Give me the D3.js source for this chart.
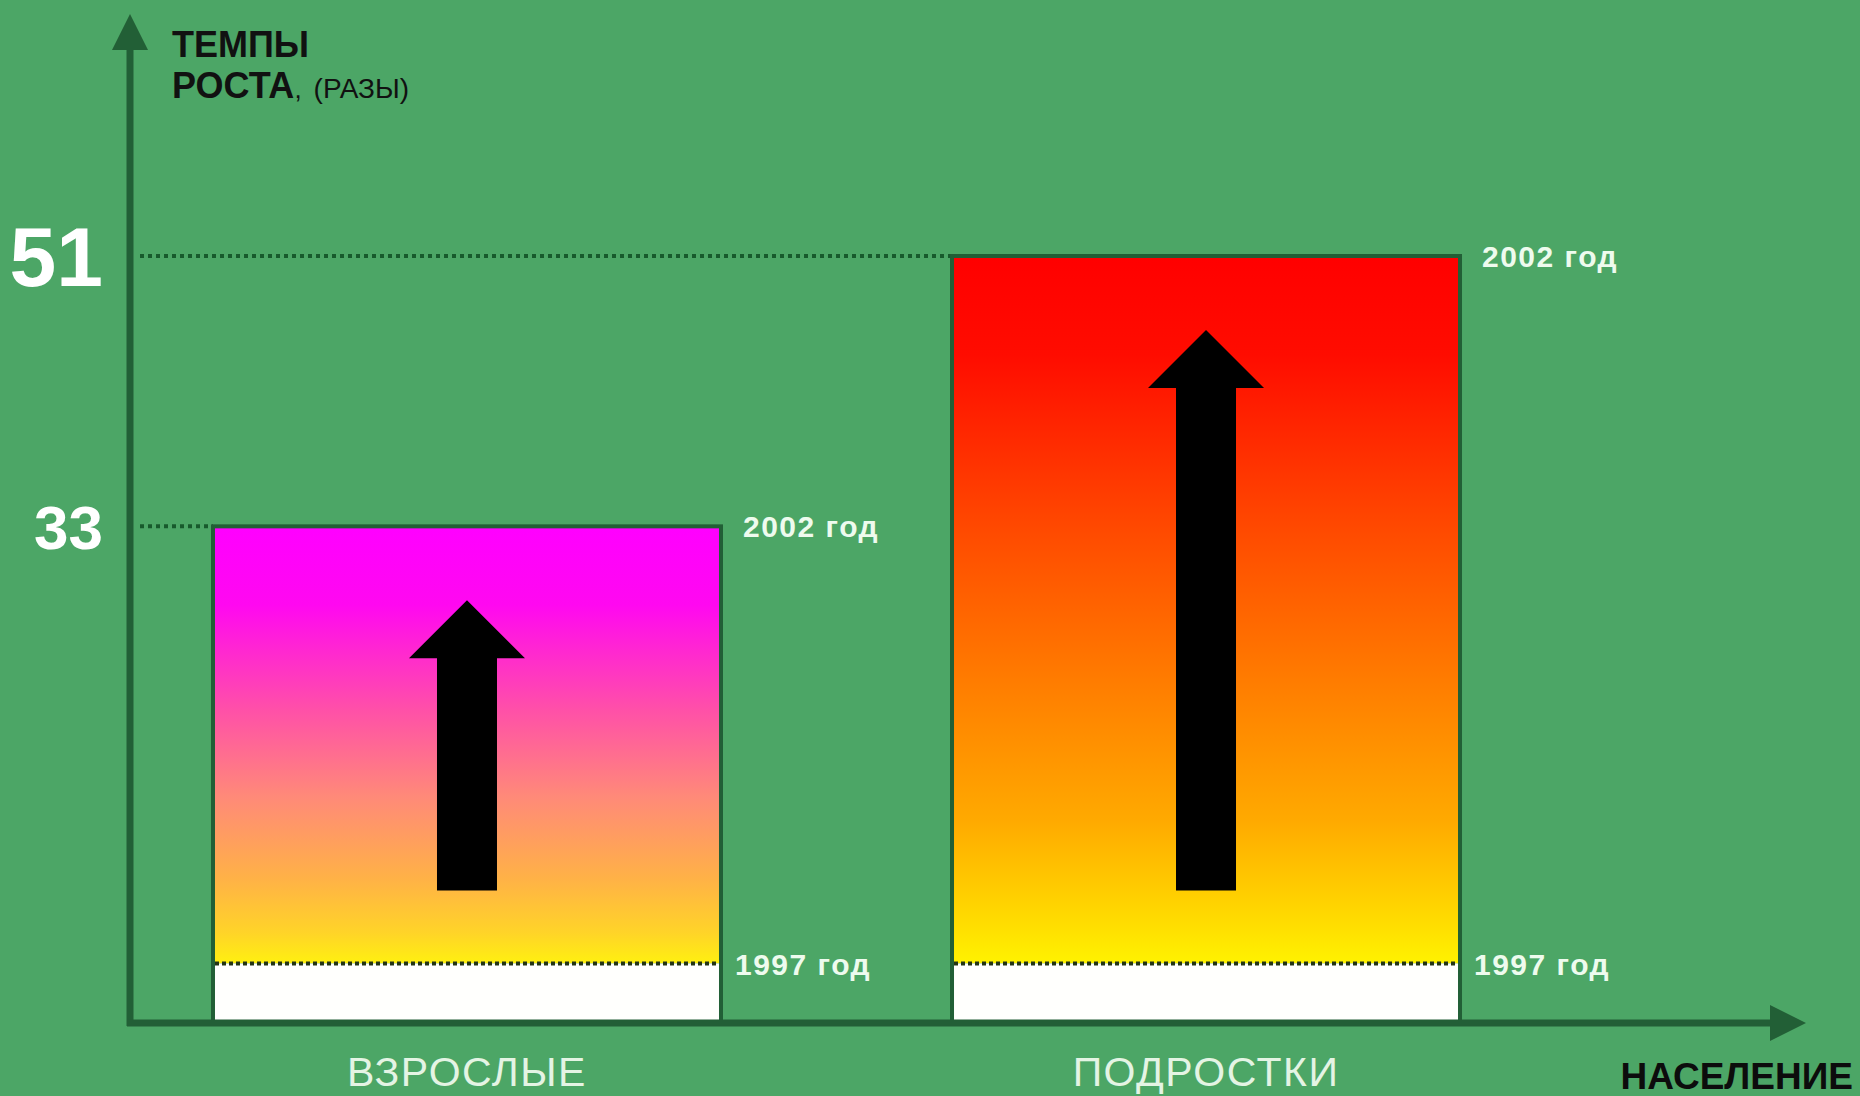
<!DOCTYPE html>
<html lang="ru">
<head>
    <meta charset="UTF-8">
    <title>Темпы роста</title>
    <script src="https://d3js.org/d3.v7.min.js"></script>
    <style>
        body { margin: 0; background: #4ca666; }
        svg { display: block; }
        text { font-family: "Liberation Sans", Arial, sans-serif; }
    </style>
</head>
<body>
    <svg id="chart" width="1860" height="1096"></svg>
    <script>
        // data
        const categories = ["ВЗРОСЛЫЕ", "ПОДРОСТКИ"];
        const values2002 = [33, 51];
        const values1997 = [3.9, 3.9];   // 1997 level as drawn (schematic)
        const tickValues = [33, 51];
        const yearLabels = ["1997 год", "2002 год"];
        const yTitle = ["ТЕМПЫ", "РОСТА"];
        const yUnit = "(РАЗЫ)";
        const xTitle = "НАСЕЛЕНИЕ";

        const gradients = [
            [[0, "#ff00ff"], [0.18, "#ff08f0"], [0.42, "#ff50a8"], [0.62, "#ff8a78"], [0.8, "#ffb048"], [0.93, "#ffd428"], [1, "#fff010"]],
            [[0, "#ff0000"], [0.14, "#ff0c00"], [0.38, "#ff4800"], [0.6, "#ff7c00"], [0.8, "#ffaa00"], [0.93, "#ffd800"], [1, "#fff200"]]
        ];

        const svg = d3.select("#chart");
        const width = +svg.attr("width");
        const height = +svg.attr("height");

        const axisX = 130, axisY = 1023;

        const x = d3.scaleBand()
            .domain(categories)
            .range([130, 1543])
            .paddingInner(0.3126)
            .paddingOuter(0.1123);

        const y = d3.scaleLinear()
            .domain([0, 51])
            .range([1022, 256]);

        svg.append("rect").attr("width", width).attr("height", height).attr("fill", "#4ca666");

        const defs = svg.append("defs");
        categories.forEach((c, i) => {
            const g = defs.append("linearGradient")
                .attr("id", "grad" + i)
                .attr("x1", 0).attr("y1", 0).attr("x2", 0).attr("y2", 1);
            g.selectAll("stop").data(gradients[i]).enter().append("stop")
                .attr("offset", d => d[0])
                .attr("stop-color", d => d[1]);
        });

        const dark = "#225f36";

        // dotted guide lines from the y axis
        tickValues.forEach(v => {
            const idx = values2002.indexOf(v);
            svg.append("line")
                .attr("x1", axisX + 10).attr("x2", x(categories[idx]))
                .attr("y1", y(v)).attr("y2", y(v))
                .attr("stroke", "#175a2c").attr("stroke-width", 4)
                .attr("stroke-dasharray", "4,4");
        });

        // bars
        const bars = svg.selectAll("g.bar").data(categories).enter().append("g").attr("class", "bar");

        bars.append("rect")
            .attr("x", d => x(d))
            .attr("y", (d, i) => y(values2002[i]))
            .attr("width", x.bandwidth())
            .attr("height", (d, i) => y(values1997[i]) - y(values2002[i]))
            .attr("fill", (d, i) => `url(#grad${i})`);

        bars.append("rect")
            .attr("x", d => x(d))
            .attr("y", (d, i) => y(values1997[i]))
            .attr("width", x.bandwidth())
            .attr("height", (d, i) => y(0) - y(values1997[i]))
            .attr("fill", "#fffffd");

        bars.append("rect")
            .attr("x", d => x(d))
            .attr("y", (d, i) => y(values2002[i]))
            .attr("width", x.bandwidth())
            .attr("height", (d, i) => y(0) - y(values2002[i]))
            .attr("fill", "none")
            .attr("stroke", dark).attr("stroke-width", 4);

        bars.append("line")
            .attr("x1", d => x(d) + 2).attr("x2", d => x(d) + x.bandwidth() - 2)
            .attr("y1", (d, i) => y(values1997[i])).attr("y2", (d, i) => y(values1997[i]))
            .attr("stroke", "#243414").attr("stroke-width", 4)
            .attr("stroke-dasharray", "4,3");

        // black arrows inside bars
        bars.append("path")
            .attr("fill", "#000")
            .attr("d", (d, i) => {
                const cx = x(d) + x.bandwidth() / 2;
                const tip = y(values2002[i]) + 74;
                const headBase = tip + 58;
                const bottom = y(values1997[i]) - 73;
                const sw = 30, hw = 58;
                return `M${cx},${tip} L${cx + hw},${headBase} L${cx + sw},${headBase} L${cx + sw},${bottom}` +
                    ` L${cx - sw},${bottom} L${cx - sw},${headBase} L${cx - hw},${headBase} Z`;
            });

        // year labels at right side of bars
        bars.append("text")
            .attr("x", d => x(d) + x.bandwidth() + 22)
            .attr("y", (d, i) => y(values2002[i]) + 11)
            .attr("fill", "#eefbee")
            .attr("font-size", 30).attr("font-weight", "bold")
            .attr("letter-spacing", 1.5)
            .text(yearLabels[1]);

        bars.append("text")
            .attr("x", d => x(d) + x.bandwidth() + 14)
            .attr("y", (d, i) => y(values1997[i]) + 12)
            .attr("fill", "#eefbee")
            .attr("font-size", 30).attr("font-weight", "bold")
            .attr("letter-spacing", 1.5)
            .text(yearLabels[0]);

        // category labels
        bars.append("text")
            .attr("x", d => x(d) + x.bandwidth() / 2)
            .attr("y", 1086)
            .attr("text-anchor", "middle")
            .attr("fill", "#e4f4e4")
            .attr("font-size", 41)
            .attr("letter-spacing", 1.5)
            .text(d => d);

        // axes
        svg.append("line")
            .attr("x1", axisX).attr("x2", axisX)
            .attr("y1", axisY + 3).attr("y2", 45)
            .attr("stroke", dark).attr("stroke-width", 7);
        svg.append("path")
            .attr("fill", dark)
            .attr("d", `M${axisX},14 L${axisX + 18},50 L${axisX - 18},50 Z`);

        svg.append("line")
            .attr("x1", axisX - 3).attr("x2", 1775)
            .attr("y1", axisY).attr("y2", axisY)
            .attr("stroke", dark).attr("stroke-width", 7);
        svg.append("path")
            .attr("fill", dark)
            .attr("d", `M1806,${axisY} L1770,${axisY - 18} L1770,${axisY + 18} Z`);

        // tick labels
        const tickSize = { 33: 62, 51: 84 };
        svg.selectAll("text.tick").data(tickValues).enter().append("text")
            .attr("class", "tick")
            .attr("x", 103)
            .attr("y", d => y(d) + tickSize[d] * 0.36)
            .attr("text-anchor", "end")
            .attr("fill", "#ffffff")
            .attr("font-size", d => tickSize[d])
            .attr("font-weight", "bold")
            .text(d => d);

        // axis titles
        svg.append("text")
            .attr("x", 172).attr("y", 57)
            .attr("fill", "#111").attr("font-size", 36).attr("font-weight", "bold")
            .text(yTitle[0]);
        const t2 = svg.append("text")
            .attr("x", 172).attr("y", 98)
            .attr("fill", "#111").attr("font-size", 36).attr("font-weight", "bold");
        t2.append("tspan").text(yTitle[1]);
        t2.append("tspan").attr("font-weight", "normal").attr("font-size", 26).text(",");
        t2.append("tspan").attr("dx", 12).attr("font-weight", "normal").attr("font-size", 28).text(yUnit);

        svg.append("text")
            .attr("x", 1853).attr("y", 1089)
            .attr("text-anchor", "end")
            .attr("fill", "#0c0c0c").attr("font-size", 37).attr("font-weight", "bold")
            .text(xTitle);
    </script>
</body>
</html>
